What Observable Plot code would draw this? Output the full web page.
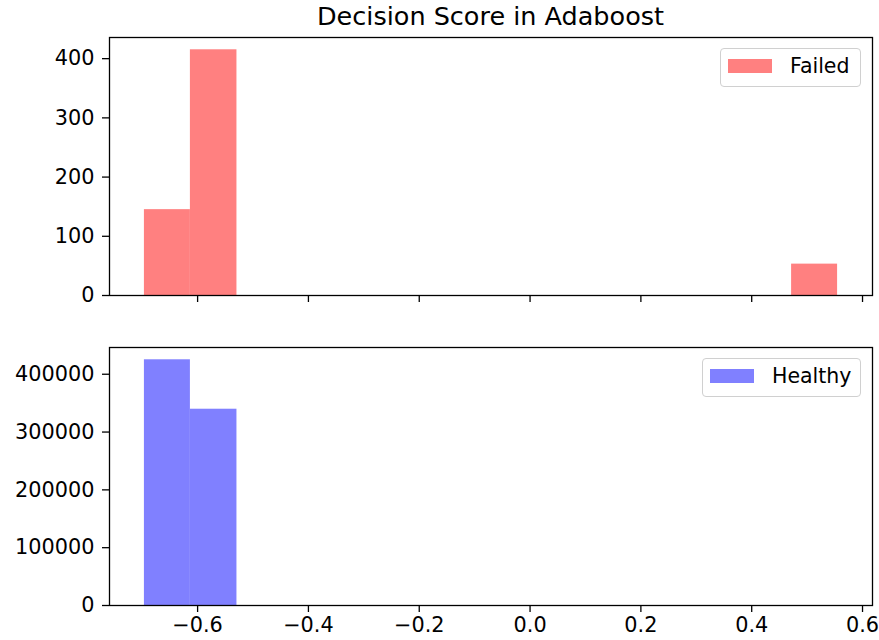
<!DOCTYPE html>
<html>
<head>
<meta charset="utf-8">
<script src="https://cdn.jsdelivr.net/npm/d3@7"></script>
<script src="https://cdn.jsdelivr.net/npm/@observablehq/plot@0.6"></script>
<style>
  html, body { margin: 0; padding: 0; background: #fff; }
  #fig { position: relative; width: 879px; height: 640px; font-family: "DejaVu Sans", sans-serif; overflow: hidden; }
  #fig > .panel { position: absolute; left: 0; }
  .title { position: absolute; left: 109px; width: 763px; top: 1px; text-align: center; font-size: 25.5px; color: #000; }
  .legend { position: absolute; box-sizing: border-box; border: 1px solid #d0d0d0; border-radius: 4px; background: rgba(255,255,255,0.8); }
  .legend .patch { position: absolute; left: 7px; top: 10px; width: 44px; height: 14px; }
  .legend .label { position: absolute; top: 4px; font-size: 20.5px; color: #000; line-height: 26px; }
</style>
</head>
<body>
<div id="fig">
  <div class="title">Decision Score in Adaboost</div>
</div>
<script>
// Histogram bin edges (decision score)
const binEdges = [-0.696, -0.613, -0.529, -0.446, -0.362, -0.279, -0.195, -0.112, -0.029, 0.055, 0.138, 0.222, 0.305, 0.388, 0.472, 0.555];
// Counts per bin
const failedCounts  = [145, 415, 0, 0, 0, 0, 0, 0, 0, 0, 0, 0, 0, 0, 53];
const healthyCounts = [425000, 339500, 0, 0, 0, 0, 0, 0, 0, 0, 0, 0, 0, 0, 0];
// Tick values
const xTicks = [-0.6, -0.4, -0.2, 0.0, 0.2, 0.4, 0.6];
const failedYTicks = [0, 100, 200, 300, 400];
const healthyYTicks = [0, 100000, 200000, 300000, 400000];
const seriesNames = ["Failed", "Healthy"];
const seriesColors = ["#ff8080", "#8080ff"];

const xDomain = [-0.759, 0.618];

function bins(counts) {
  return counts.map((c, i) => ({x1: binEdges[i], x2: binEdges[i + 1], count: c})).filter(d => d.count > 0);
}

function panel({counts, color, yTicks, yMax, top, height, marginTop, marginBottom, showXLabels}) {
  const p = Plot.plot({
    width: 879,
    height,
    marginTop,
    marginBottom,
    marginLeft: 109,
    marginRight: 7,
    style: {fontFamily: "DejaVu Sans, sans-serif", fontSize: "20.8px", color: "#000", background: "transparent", overflow: "visible"},
    x: {domain: xDomain, label: null},
    y: {domain: [0, yMax], label: null},
    marks: [
      Plot.rectY(bins(counts), {x1: "x1", x2: "x2", y: "count", fill: color, inset: 0}),
      Plot.axisX({ticks: xTicks, tickSize: 7, tickPadding: 5, strokeWidth: 1.3,
                  tickFormat: showXLabels ? d3.format(".1f") : () => "", label: null}),
      Plot.axisY({ticks: yTicks, tickSize: 7, tickPadding: 8, strokeWidth: 1.3,
                  tickFormat: d3.format("d"), label: null}),
      Plot.frame({stroke: "#000", strokeWidth: 1.3})
    ]
  });
  const wrap = document.createElement("div");
  wrap.className = "panel";
  wrap.style.top = top + "px";
  wrap.appendChild(p);
  document.getElementById("fig").appendChild(wrap);
}

panel({counts: failedCounts, color: seriesColors[0], yTicks: failedYTicks, yMax: 415 * 1.05,
       top: 0, height: 320, marginTop: 37, marginBottom: 25, showXLabels: false});
panel({counts: healthyCounts, color: seriesColors[1], yTicks: healthyYTicks, yMax: 425000 * 1.05,
       top: 320, height: 320, marginTop: 27, marginBottom: 35, showXLabels: true});

function legend(name, color, left, top, width) {
  const lg = document.createElement("div");
  lg.className = "legend";
  lg.style.left = left + "px";
  lg.style.top = top + "px";
  lg.style.width = width + "px";
  lg.style.height = "39px";
  const patch = document.createElement("div");
  patch.className = "patch";
  patch.style.background = color;
  const label = document.createElement("div");
  label.className = "label";
  label.style.left = "69px";
  label.textContent = name;
  lg.appendChild(patch);
  lg.appendChild(label);
  document.getElementById("fig").appendChild(lg);
}
legend(seriesNames[0], seriesColors[0], 720, 48, 141);
legend(seriesNames[1], seriesColors[1], 702, 358, 159);
</script>
</body>
</html>
